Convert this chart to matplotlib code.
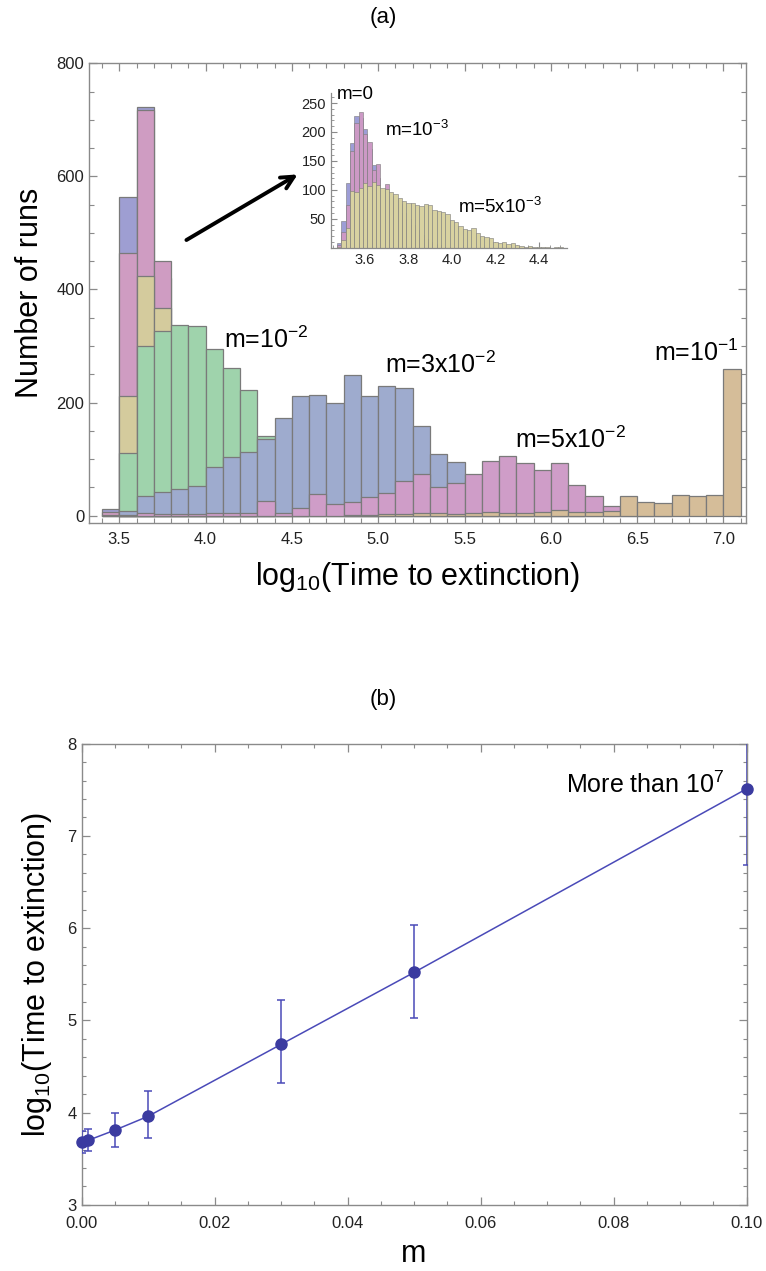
import matplotlib
matplotlib.use('Agg')
import matplotlib.pyplot as plt
import numpy as np
from matplotlib.ticker import MultipleLocator, FixedLocator, FormatStrFormatter

plt.rcParams['font.family'] = ['Liberation Sans', 'DejaVu Sans']
plt.rcParams['mathtext.fontset'] = 'custom'
plt.rcParams['mathtext.rm'] = 'Liberation Sans'
plt.rcParams['mathtext.it'] = 'Liberation Sans:italic'

# ---- panel (a): main histogram, bins of 0.1 starting at 3.4 ----
bin_start = 3.4
bin_width = 0.1
# counts per bin (3.4, 3.5, ..., 7.0); drawn overlapped, later series in front
m_0 = [11, 563, 722, 420, 170, 65, 22, 8, 3, 0, 0, 0, 0, 0, 0, 0, 0, 0, 0,
       0, 0, 0, 0, 0, 0, 0, 0, 0, 0, 0, 0, 0, 0, 0, 0, 0, 0]
m_1e3 = [6, 464, 717, 450, 200, 85, 30, 10, 4, 1, 0, 0, 0, 0, 0, 0, 0, 0, 0,
         0, 0, 0, 0, 0, 0, 0, 0, 0, 0, 0, 0, 0, 0, 0, 0, 0, 0]
m_5e3 = [2, 211, 424, 367, 300, 240, 170, 110, 60, 30, 10, 3, 0, 0, 0, 0, 0, 0, 0,
         0, 0, 0, 0, 0, 0, 0, 0, 0, 0, 0, 0, 0, 0, 0, 0, 0, 0]
m_1e2 = [0, 110, 300, 327, 337, 336, 295, 261, 222, 141, 100, 60, 30, 15, 6, 2, 0, 0, 0,
         0, 0, 0, 0, 0, 0, 0, 0, 0, 0, 0, 0, 0, 0, 0, 0, 0, 0]
m_3e2 = [0, 8, 34, 42, 47, 52, 86, 103, 113, 135, 172, 211, 214, 199, 249, 211, 230, 226, 158,
         109, 95, 62, 40, 25, 14, 8, 4, 2, 0, 0, 0, 0, 0, 0, 0, 0, 0]
m_5e2 = [0, 2, 4, 3, 3, 3, 5, 4, 5, 26, 5, 13, 38, 21, 25, 33, 41, 61, 73,
         50, 57, 73, 97, 106, 94, 81, 94, 54, 34, 18, 6, 3, 1, 0, 0, 0, 0]
m_1e1 = [0, 0, 0, 0, 0, 0, 0, 0, 0, 0, 0, 0, 0, 0, 2, 2, 3, 3, 5,
         4, 3, 5, 6, 4, 5, 6, 10, 7, 7, 8, 34, 24, 22, 37, 35, 37, 260]

main_series = [m_0, m_1e3, m_5e3, m_1e2, m_3e2, m_5e2, m_1e1]
main_colors = ['#9e9ed2', '#cf9cc2', '#d4cb9d', '#9fd3ac', '#9eabce', '#cf9dc8', '#d5bd99']

# ---- inset histogram, bins of 0.02 starting at 3.47 ----
inset_start = 3.47
inset_width = 0.02
in_m0 = [8, 46, 112, 181, 227, 225, 206, 170, 143, 120, 95, 90, 80, 70, 60, 50, 40, 30, 22,
         15, 10, 6, 4, 2, 1, 0, 0, 0, 0, 0, 0, 0, 0, 0, 0, 0, 0, 0, 0, 0, 0, 0, 0, 0, 0, 0,
         0, 0, 0, 0, 0, 0]
in_m1 = [5, 28, 73, 168, 215, 235, 197, 183, 134, 145, 100, 110, 90, 85, 75, 60, 50, 40, 30,
         22, 15, 10, 6, 4, 2, 1, 0, 0, 0, 0, 0, 0, 0, 0, 0, 0, 0, 0, 0, 0, 0, 0, 0, 0, 0, 0,
         0, 0, 0, 0, 0, 0]
in_m5 = [2, 13, 34, 98, 97, 104, 111, 107, 113, 109, 104, 101, 97, 92, 86, 80, 78, 77, 74,
         72, 75, 73, 66, 63, 62, 58, 48, 45, 38, 33, 30, 34, 25, 20, 18, 16, 10, 8, 10, 6,
         8, 4, 3, 2, 3, 2, 1, 2, 1, 0, 1, 1]
inset_series = [in_m0, in_m1, in_m5]
inset_colors = ['#9d9dd6', '#cc99c5', '#d8d2a1']

# ---- panel (b) ----
m_vals = [0.0, 0.001, 0.005, 0.01, 0.03, 0.05, 0.1]
t_mean = [3.68, 3.70, 3.81, 3.96, 4.74, 5.52, 7.51]
t_err_lo = [0.12, 0.12, 0.18, 0.24, 0.42, 0.49, 0.83]
t_err_hi = [0.12, 0.12, 0.19, 0.27, 0.48, 0.51, 0.83]

frame_color = '#8a8a8a'
tick_text = '#222222'
edge = '#7a7a7a'

fig = plt.figure(figsize=(7.66, 12.71), dpi=100)


def overlapped_bars(ax, start, width, series, colors, lw):
    n = len(series[0])
    lefts = np.array([start + i * width for i in range(n)])
    for k, (vals, col) in enumerate(zip(series, colors)):
        vals = np.asarray(vals, dtype=float)
        keep = vals > 0
        ax.bar(lefts[keep], vals[keep], width=width, align='edge', color=col,
               edgecolor=edge, linewidth=lw, zorder=2 + 0.1 * k)


def style_frame(ax, major_len, minor_len):
    for s in ax.spines.values():
        s.set_color(frame_color)
        s.set_linewidth(1.0)
    ax.tick_params(which='both', direction='in', top=True, right=True,
                   colors=frame_color, labelcolor=tick_text)
    ax.tick_params(which='major', length=major_len, width=0.9)
    ax.tick_params(which='minor', length=minor_len, width=0.8)


# main axes (a)
ax = fig.add_axes([0.1162, 0.5883, 0.8578, 0.3619])
overlapped_bars(ax, bin_start, bin_width, main_series, main_colors, 0.9)
ax.set_xlim(3.3245, 7.131)
ax.set_ylim(-13.4, 800)
ax.xaxis.set_major_locator(MultipleLocator(0.5))
ax.xaxis.set_minor_locator(MultipleLocator(0.1))
ax.yaxis.set_major_locator(MultipleLocator(200))
ax.yaxis.set_minor_locator(MultipleLocator(50))
ax.xaxis.set_major_formatter(FormatStrFormatter('%.1f'))
style_frame(ax, 5.5, 3.5)
ax.tick_params(labelsize=12)
ax.tick_params(axis='x', pad=6)
ax.set_xlabel(r'log$_{10}$(Time to extinction)', fontsize=22, labelpad=10)
ax.set_ylabel('Number of runs', fontsize=22, labelpad=8)

lab = dict(fontsize=18, color='black', zorder=10)
ax.text(4.107, 311, r'm=10$^{-2}$', va='center', **lab)
ax.text(5.04, 266, r'm=3x10$^{-2}$', va='center', **lab)
ax.text(5.79, 134, r'm=5x10$^{-2}$', va='center', **lab)
ax.text(6.60, 288, r'm=10$^{-1}$', va='center', **lab)
ax.annotate('', xy=(4.547, 606), xytext=(3.875, 485),
            arrowprops=dict(arrowstyle='->,head_length=0.9,head_width=0.45',
                            lw=2.8, color='black'))

# inset
axi = fig.add_axes([0.4321, 0.8051, 0.3081, 0.1220])
overlapped_bars(axi, inset_start, inset_width, inset_series, inset_colors, 0.4)
axi.set_xlim(3.443, 4.53)
axi.set_ylim(0, 268)
axi.patch.set_alpha(0)
for side in ['top', 'right']:
    axi.spines[side].set_visible(False)
for side in ['left', 'bottom']:
    axi.spines[side].set_color(frame_color)
    axi.spines[side].set_linewidth(0.9)
axi.xaxis.set_major_locator(FixedLocator([3.6, 3.8, 4.0, 4.2, 4.4]))
axi.xaxis.set_minor_locator(MultipleLocator(0.05))
axi.yaxis.set_major_locator(FixedLocator([50, 100, 150, 200, 250]))
axi.yaxis.set_minor_locator(MultipleLocator(10))
axi.xaxis.set_major_formatter(FormatStrFormatter('%.1f'))
axi.tick_params(which='both', direction='in', colors=frame_color,
                labelcolor=tick_text, labelsize=10.5)
axi.tick_params(which='major', length=4)
axi.tick_params(which='minor', length=2)
ilab = dict(fontsize=13.5, color='black', va='center', zorder=10)
axi.text(3.47, 265, 'm=0', **ilab)
axi.text(3.692, 204, r'm=10$^{-3}$', **ilab)
axi.text(4.03, 71, r'm=5x10$^{-3}$', **ilab)

fig.text(0.5, 1 - 18 / 1271, '(a)', ha='center', va='center', fontsize=16)

# panel (b)
axb = fig.add_axes([0.1064, 0.0520, 0.8682, 0.3629])
line_col = '#4a4ab8'
pt_col = '#3b3ba0'
axb.plot(m_vals, t_mean, color=line_col, lw=1.1, zorder=3, clip_on=False)
axb.errorbar(m_vals, t_mean, yerr=[t_err_lo, t_err_hi], fmt='none',
             ecolor=line_col, elinewidth=1.1, capsize=3, capthick=1.1, zorder=3)
axb.plot(m_vals, t_mean, 'o', color=pt_col, ms=8, zorder=4, clip_on=False)
axb.set_xlim(0, 0.1)
axb.set_ylim(3, 8)
axb.xaxis.set_major_locator(MultipleLocator(0.02))
axb.xaxis.set_minor_locator(MultipleLocator(0.005))
axb.yaxis.set_major_locator(MultipleLocator(1))
axb.yaxis.set_minor_locator(MultipleLocator(0.2))
axb.xaxis.set_major_formatter(FormatStrFormatter('%.2f'))
style_frame(axb, 6, 3)
axb.tick_params(labelsize=12)
axb.tick_params(axis='x', pad=8)
axb.set_xlabel('m', fontsize=22, labelpad=6)
axb.set_ylabel(r'log$_{10}$(Time to extinction)', fontsize=22, labelpad=10)
axb.text(0.0847, 7.55, r'More than 10$^{7}$', ha='center', va='center', fontsize=18)

fig.text(0.5, 1 - 700 / 1271, '(b)', ha='center', va='center', fontsize=16)

fig.savefig('out.png', dpi=100)
